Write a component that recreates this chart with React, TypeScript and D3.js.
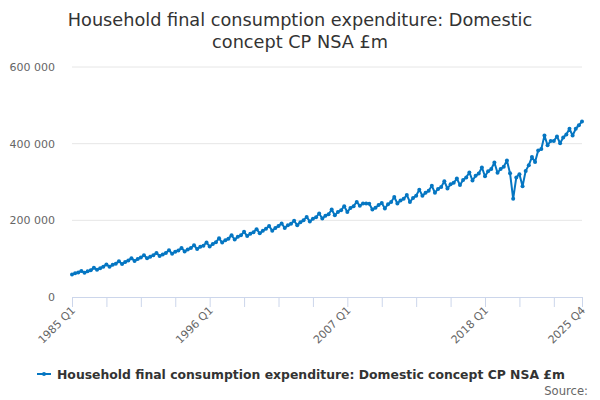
import React from 'react';
import * as d3 from 'd3';

// quarterly values, £m, 1985 Q1 .. 2025 Q4
const years = d3.range(1985, 2026);
const quarterNames = ['Q1', 'Q2', 'Q3', 'Q4'];

const values: number[] = [
  59000, 62000, 64000, 68000, // 1985
  63000, 67000, 70000, 76000,
  71000, 75000, 79000, 85000,
  79000, 84000, 87000, 93000,
  86000, 91000, 95000, 101000,
  94000, 99000, 103000, 109000, // 1990
  101000, 105000, 109000, 115000,
  107000, 111000, 115000, 122000,
  113000, 118000, 121000, 128000,
  119000, 124000, 128000, 135000,
  125000, 131000, 134000, 142000, // 1995
  132000, 138000, 143000, 153000,
  142000, 148000, 152000, 161000,
  150000, 157000, 161000, 170000,
  159000, 165000, 169000, 177000,
  166000, 173000, 178000, 185000, // 2000
  173000, 180000, 185000, 192000,
  180000, 187000, 191000, 199000,
  187000, 195000, 200000, 209000,
  197000, 204000, 208000, 218000,
  205000, 212000, 216000, 228000, // 2005
  213000, 222000, 226000, 237000,
  222000, 232000, 237000, 248000,
  238000, 244000, 244000, 243000,
  228000, 233000, 240000, 245000,
  231000, 242000, 248000, 261000, // 2010
  244000, 252000, 256000, 266000,
  248000, 258000, 264000, 280000,
  264000, 272000, 277000, 290000,
  272000, 282000, 287000, 302000,
  283000, 294000, 298000, 309000, // 2015
  292000, 305000, 312000, 325000,
  304000, 316000, 322000, 338000,
  315000, 328000, 334000, 351000,
  324000, 334000, 340000, 356000,
  323000, 256000, 312000, 320000, // 2020
  289000, 329000, 344000, 365000,
  352000, 382000, 386000, 421000,
  396000, 407000, 407000, 419000,
  401000, 416000, 424000, 439000,
  421000, 439000, 448000, 458000, // 2025
];

const labels: string[] = years.flatMap(y => quarterNames.map(q => `${y} ${q}`));
const yTicks = [0, 200000, 400000, 600000];
const labelledTicks = ['1985 Q1', '1996 Q1', '2007 Q1', '2018 Q1', '2025 Q4'];

const seriesName = 'Household final consumption expenditure: Domestic concept CP NSA £m';
const titleLines = ['Household final consumption expenditure: Domestic', 'concept CP NSA £m'];

const W = 600;
const H = 400;
const margin = { top: 67, right: 18, bottom: 103, left: 72 };
const font = 'DejaVu Sans, sans-serif';
const blue = '#0576c2';

export default function App() {
  const innerW = W - margin.left - margin.right;
  const innerH = H - margin.top - margin.bottom;

  const x = d3.scalePoint<string>().domain(labels).range([0, innerW]);
  const y = d3.scaleLinear().domain([0, 600000]).range([innerH, 0]);

  const line = d3.line<number>()
    .x((_, i) => x(labels[i]) ?? 0)
    .y(d => y(d));

  // tick every 11 quarters, plus the last one
  const tickLabels = labels.filter((_, i) => i % 11 === 0);
  tickLabels.push(labels[labels.length - 1]);

  const fmt = (v: number) => d3.format(',')(v).replace(/,/g, ' ');

  return (
    <svg width={W} height={H} style={{ display: 'block', position: 'absolute', left: 0, top: 0, background: '#fff' }}>
      <g fontFamily={font}>
        {titleLines.map((t, i) => (
          <text key={t} x={W / 2} y={26 + i * 22} textAnchor="middle" fontSize={17.7} fill="#333">{t}</text>
        ))}

        <g transform={`translate(${margin.left},${margin.top})`}>
          {yTicks.map(t => (
            <g key={t}>
              {t > 0 && <line x1={0} x2={innerW} y1={y(t)} y2={y(t)} stroke="#e6e6e6" />}
              <text x={-17} y={y(t) + 4} textAnchor="end" fontSize={11} fill="#666">{fmt(t)}</text>
            </g>
          ))}

          <line x1={0} x2={innerW} y1={innerH + 0.5} y2={innerH + 0.5} stroke="#ccd6eb" />
          {tickLabels.map(l => (
            <line key={l} x1={(x(l) ?? 0) + 0.5} x2={(x(l) ?? 0) + 0.5} y1={innerH} y2={innerH + 10} stroke="#ccd6eb" />
          ))}
          {labelledTicks.map(l => (
            <text key={l}
              transform={`translate(${(x(l) ?? 0) + 4},${innerH + 14}) rotate(-45)`}
              textAnchor="end" fontSize={11} fill="#666">{l}</text>
          ))}

          <path d={line(values) ?? ''} fill="none" stroke={blue} strokeWidth={2} strokeLinejoin="round" />
          {values.map((v, i) => (
            <circle key={i} cx={x(labels[i])} cy={y(v)} r={2} fill={blue} />
          ))}
        </g>

        <g transform="translate(0,374)">
          <line x1={37} x2={51} y1={0} y2={0} stroke={blue} strokeWidth={2} />
          <circle cx={44} cy={0} r={2} fill={blue} />
          <text x={57} y={5} fontSize={12.4} fontWeight="bold" fill="#333">{seriesName}</text>
        </g>
        <text x={588} y={395} textAnchor="end" fontSize={11.6} fill="#666">Source:</text>
      </g>
    </svg>
  );
}
